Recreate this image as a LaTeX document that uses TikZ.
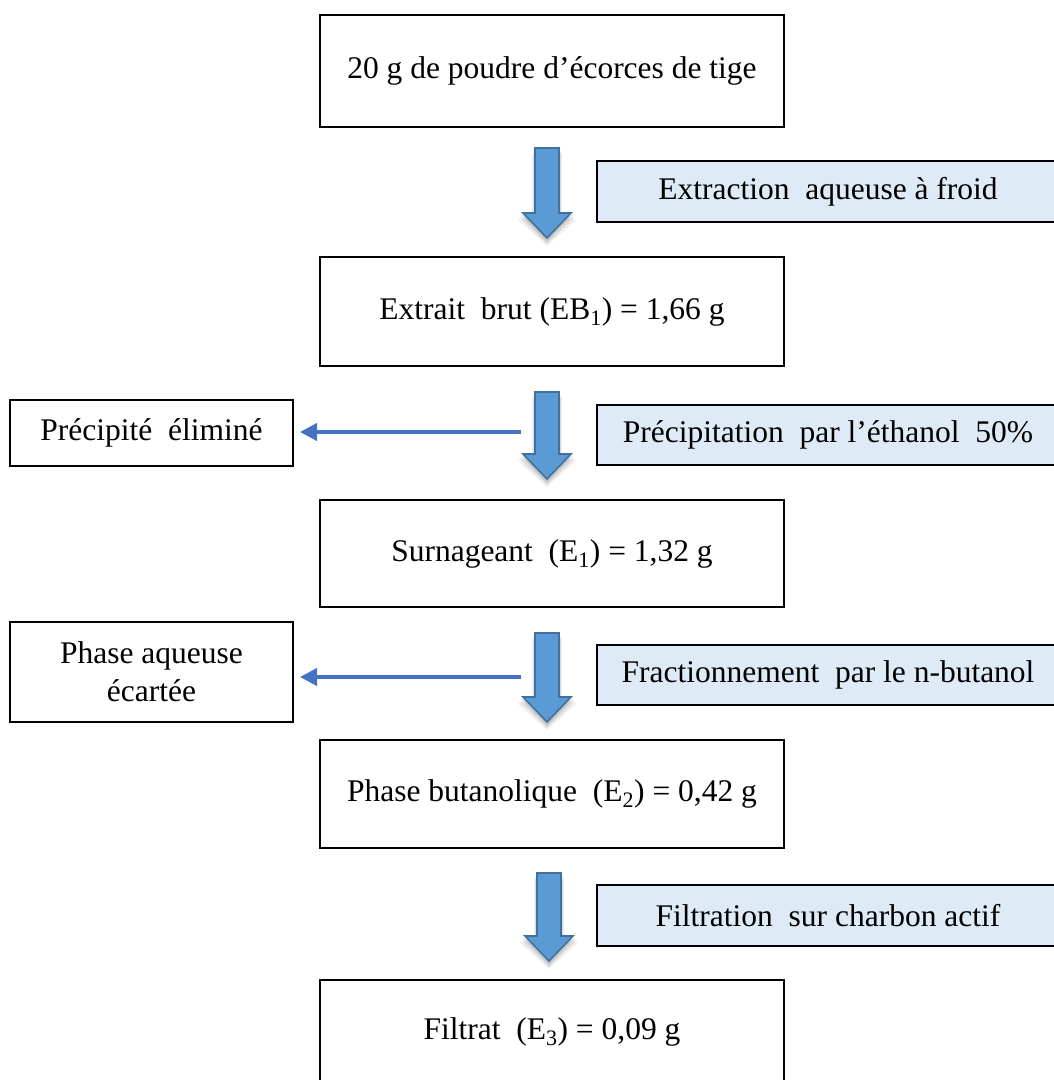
\documentclass[tikz,border=0pt]{standalone}
\usepackage{fontspec}
\setmainfont{Liberation Serif}
\usetikzlibrary{arrows.meta}
\definecolor{arrowfill}{HTML}{5B9BD5}
\definecolor{arrowedge}{HTML}{41719C}
\definecolor{noteblue}{HTML}{DEEBF7}
\definecolor{sideblue}{HTML}{4472C4}
\newcommand\flowarrow[3]{%
  % #1 = centre x, #2 = top y, #3 = tip y
  \foreach \o/\op in {6/0.06,4/0.08,2/0.10}{%
    \fill[black,opacity=\op] ({#1-12-\o/2},{#2+\o}) -- ({#1+12+\o/2},{#2+\o}) -- ({#1+12+\o/2},{#3-25+\o}) -- ({#1+24+\o},{#3-25+\o}) -- ({#1},{#3+\o+2}) -- ({#1-24-\o},{#3-25+\o}) -- ({#1-12-\o/2},{#3-25+\o}) -- cycle;}
  \filldraw[blockarrow] ({#1-12},{#2}) -- ({#1+12},{#2}) -- ({#1+12},{#3-25}) -- ({#1+24},{#3-25}) -- ({#1},{#3}) -- ({#1-24},{#3-25}) -- ({#1-12},{#3-25}) -- cycle;}
\begin{document}
\begin{tikzpicture}[x=1pt,y=-1pt,
  txt/.style={font=\fontsize{31.5}{38}\selectfont,align=center,inner sep=0pt},
  mainbox/.style={txt,draw=black,line width=2pt,minimum width=464pt},
  notebox/.style={txt,draw=black,line width=2pt,fill=noteblue,minimum width=462pt},
  sidebox/.style={txt,draw=black,line width=2pt,minimum width=283pt},
  blockarrow/.style={fill=arrowfill,draw=arrowedge,line width=1.6pt,line join=miter},
  sidearrow/.style={draw=sideblue,line width=3.8pt,shorten >=6pt,-{Triangle[length=17pt,width=17pt]}}]
\useasboundingbox (0,0) rectangle (1054,1080);
\fill[white] (0,0) rectangle (1054,1080);

% main boxes
\node[mainbox,minimum height=112pt] (b1) at (552,71) {20 g de poudre d’écorces de tige};
\node[mainbox,minimum height=109pt] (b2) at (552,311.5) {Extrait\ \ brut (EB\textsubscript{1}) = 1,66 g};
\node[mainbox,minimum height=107pt] (b3) at (552,553.5) {Surnageant\ \ (E\textsubscript{1}) = 1,32 g};
\node[mainbox,minimum height=108pt] (b4) at (552,794) {Phase butanolique\ \ (E\textsubscript{2}) = 0,42 g};
\node[mainbox,minimum height=104pt] (b5) at (552,1032) {Filtrat\ \ (E\textsubscript{3}) = 0,09 g};

% step notes
\node[notebox,minimum height=61pt] (n1) at (828,191.5) {Extraction\ \ aqueuse à froid};
\node[notebox,minimum height=60pt] (n2) at (828,435) {Précipitation\ \ par l’éthanol\ \ 50\%};
\node[notebox,minimum height=60pt] (n3) at (828,675) {Fractionnement\ \ par le n-butanol};
\node[notebox,minimum height=61pt] (n4) at (828,915.5) {Filtration\ \ sur charbon actif};

% side boxes
\node[sidebox,minimum height=66pt] (prec) at (151.5,433) {Précipité\ \ éliminé};
\node[sidebox,minimum height=100pt] (aq) at (151.5,672) {Phase aqueuse\\écartée};

% block arrows
\flowarrow{547}{148}{238}
\flowarrow{547}{392}{479}
\flowarrow{547}{633}{722}
\flowarrow{549}{873}{961}

% side arrows
\coordinate (s1) at (521,432);
\coordinate (s2) at (521,677);
\draw[sidearrow] (s1) -- (s1 -| prec.east);
\draw[sidearrow] (s2) -- (s2 -| aq.east);
\end{tikzpicture}
\end{document}
